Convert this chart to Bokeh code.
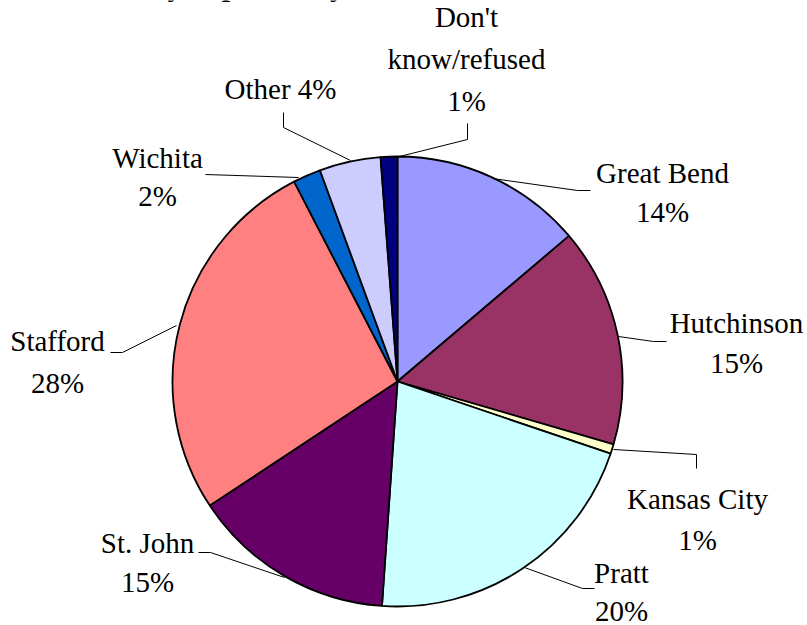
import numpy as np
from bokeh.plotting import figure
from bokeh.models import Range1d, ColumnDataSource
from bokeh.core.properties import value
from bokeh.embed import file_html
from bokeh.resources import INLINE

# ---- data (clockwise from 12 o'clock) ----
categories = ["Great Bend", "Hutchinson", "Kansas City", "Pratt", "St. John",
              "Stafford", "Wichita", "Other", "Don't know/refused"]
shares = [13.8, 15.7, 0.7, 20.9, 14.6, 26.7, 2.0, 4.4, 1.2]
pct_labels = ["14%", "15%", "1%", "20%", "15%", "28%", "2%", "4%", "1%"]
colors = ["#9999FF", "#993366", "#FFFFCC", "#CCFFFF", "#660066",
          "#FF8080", "#0066CC", "#CCCCFF", "#000080"]
title_text = "you primarily"

W, H = 807, 625
SERIF = value("Times New Roman, Liberation Serif, DejaVu Serif, serif")
DY = -10  # baseline correction


def sy(y):
    # screen y -> data y
    return H - y


p = figure(width=W, height=H, output_backend="svg", toolbar_location=None,
           x_range=Range1d(0, W), y_range=Range1d(0, H),
           x_axis_type=None, y_axis_type=None, min_border=0,
           outline_line_color=None)
p.grid.visible = False

cx, cy, r = 397, sy(381), 225

vals = np.array(shares, dtype=float)
frac = vals / vals.sum()
cum = np.cumsum(frac) * 2 * np.pi
prev = np.concatenate([[0.0], cum[:-1]])
start = np.pi / 2 - cum
end = np.pi / 2 - prev

src = ColumnDataSource(dict(start=start, end=end, color=colors, cat=categories))
p.wedge(x=cx, y=cy, radius=r, start_angle="start", end_angle="end",
        fill_color="color", line_color="black", line_width=1.8, source=src)

# ---- leader lines (screen coords) ----
leaders = [
    [(492, 178), (577, 190), (590, 190)],
    [(618, 336), (653, 341), (666, 341)],
    [(613, 449), (696, 454), (696, 468)],
    [(524, 567), (582, 588), (594, 588)],
    [(198, 552), (210, 552), (284, 577)],
    [(110, 352), (122, 352), (176, 325)],
    [(205, 174), (298, 177)],
    [(283, 112), (283, 127), (350, 160)],
    [(467, 123), (467, 139), (395, 157)],
]
p.multi_line(xs=[[pt[0] for pt in L] for L in leaders],
             ys=[[sy(pt[1]) for pt in L] for L in leaders],
             line_color="black", line_width=1)

# ---- labels: (center x, baseline y of each line) ----
label_lines = [
    ([categories[0], pct_labels[0]], 662, [182, 221]),
    ([categories[1], pct_labels[1]], 736, [332, 372]),
    ([categories[2], pct_labels[2]], 697, [508, 549]),
    (["Pratt", pct_labels[3]], 621, [582, 620]),
    ([categories[4], pct_labels[4]], 147, [552, 591]),
    ([categories[5], pct_labels[5]], 57, [350, 392]),
    ([categories[6], pct_labels[6]], 157, [167, 205]),
    ([categories[7] + " " + pct_labels[7]], 280, [98]),
    (["Don't", "know/refused", pct_labels[8]], 466, [26, 68, 110]),
]
tx, ty, tt = [], [], []
for lines, x, ys in label_lines:
    for t, y in zip(lines, ys):
        tx.append(x)
        ty.append(sy(y + DY))
        tt.append(t)

p.text(x=tx, y=ty, text=tt, text_align="center", text_baseline="alphabetic",
       text_font=SERIF, text_font_size="29px", text_color="black")

# clipped title (only descenders visible at the top edge)
p.text(x=[167], y=[sy(-5 + DY)], text=[title_text], text_align="left",
       text_baseline="alphabetic", text_font=SERIF, text_font_size="30px",
       text_font_style="bold", text_color="black")

open("out.html", "w").write(file_html(p, INLINE))
